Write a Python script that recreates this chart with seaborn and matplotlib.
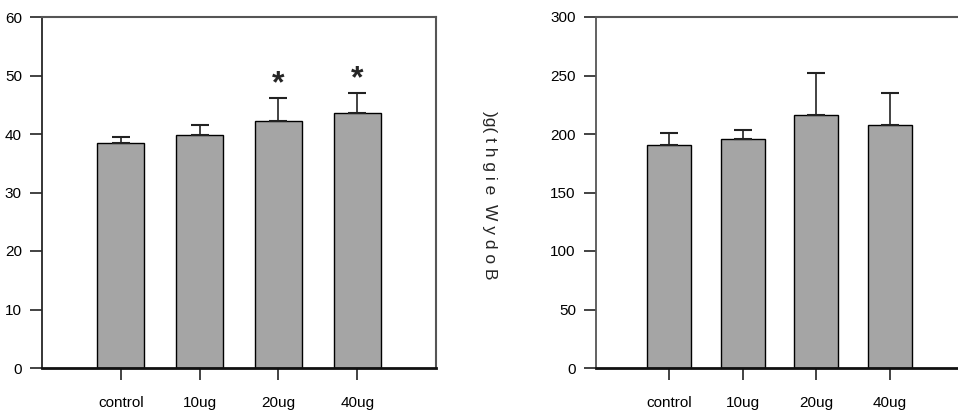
import numpy as np
import pandas as pd
import matplotlib
matplotlib.use('Agg')
import matplotlib.pyplot as plt
import seaborn as sns

# Values
groups = ['control', '10ug', '20ug', '40ug']
left_mean = [38.4, 39.9, 42.2, 43.6]
left_sd = [1.1, 1.6, 4.0, 3.4]
left_star = [False, False, True, True]
right_mean = [190.5, 195.5, 216.0, 208.0]
right_sd = [10.6, 7.7, 36.0, 27.3]
left_yticks = [0, 10, 20, 30, 40, 50, 60]
right_yticks = [0, 50, 100, 150, 200, 250, 300]

sns.set_style('white')
plt.rcParams['font.family'] = ['Liberation Sans', 'DejaVu Sans']

BAR_COLOR = '#a5a5a5'


def draw_panel(ax, means, sds, yticks, stars=None):
    df = pd.DataFrame({'group': groups, 'mean': means})
    sns.barplot(data=df, x='group', y='mean', ax=ax, color=BAR_COLOR,
                edgecolor='black', linewidth=1.0, width=0.6,
                errorbar=None, saturation=1)
    # only the upper half of the error bar is shown
    ax.errorbar(np.arange(len(groups)), means,
                yerr=[np.zeros(len(sds)), sds], fmt='none',
                ecolor='#222222', elinewidth=1.2, capsize=6.5, capthick=1.5)
    if stars is not None:
        for i, s in enumerate(stars):
            if s:
                ax.text(i, means[i] + sds[i] - 0.2, '*', ha='center',
                        va='bottom', fontsize=23, fontweight='bold')
    ax.set_xlim(-1, 4)
    ax.set_ylim(yticks[0], yticks[-1])
    ax.set_yticks(yticks)
    ax.set_xlabel('')
    ax.set_ylabel('')
    ax.tick_params(axis='both', direction='out', length=8.5, width=1.2,
                   labelsize=11, colors='#222222')
    ax.tick_params(axis='y', pad=6)
    ax.tick_params(axis='x', pad=12)
    ax.tick_params(axis='both', left=True, bottom=True)
    ax.spines['bottom'].set_linewidth(2.0)
    ax.spines['bottom'].set_color('#111111')
    ax.spines['left'].set_linewidth(1.3)
    ax.spines['top'].set_linewidth(1.5)
    ax.spines['right'].set_linewidth(1.5)
    for side in ['top', 'right']:
        ax.spines[side].set_color('#555555')
    for lbl in ax.get_xticklabels() + ax.get_yticklabels():
        lbl.set_color('black')


fig = plt.figure(figsize=(9.58, 4.12), dpi=100)
ax1 = fig.add_axes([42 / 958, 44 / 412, 394 / 958, 351 / 412])
ax2 = fig.add_axes([596 / 958, 44 / 412, 367 / 958, 351 / 412])

draw_panel(ax1, left_mean, left_sd, left_yticks, left_star)
draw_panel(ax2, right_mean, right_sd, right_yticks)
ax2.spines['left'].set_color('#555555')

# garbled y label of the right panel, as it appears in the source image
fig.text(490 / 958, 1 - 195 / 412, ')g( t h g i e  W y d o B', rotation=270,
         ha='center', va='center', fontsize=12.5)

fig.savefig('out.png', dpi=100)
